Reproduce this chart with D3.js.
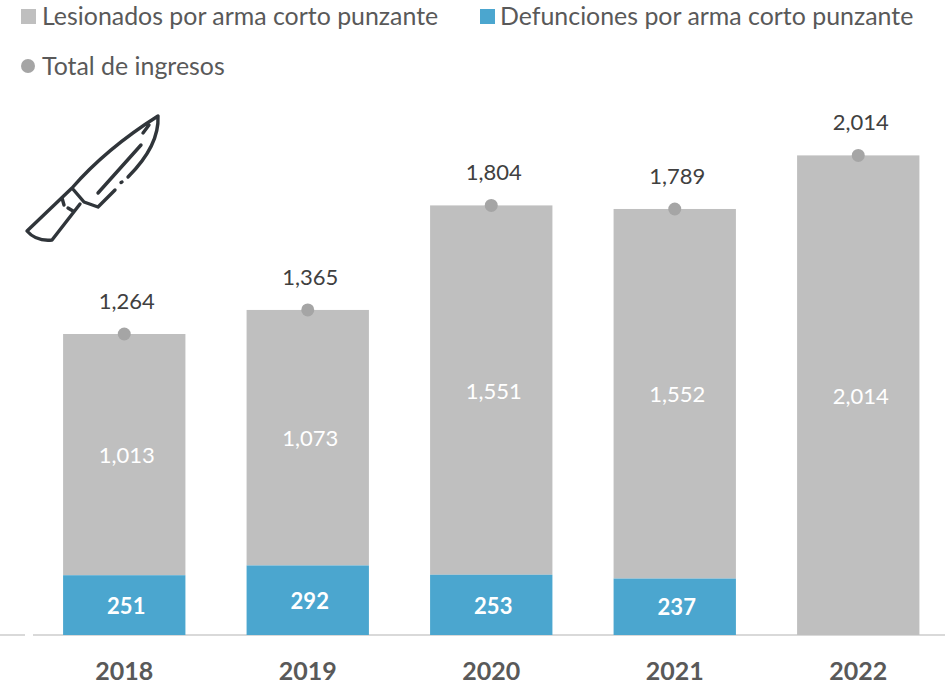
<!DOCTYPE html>
<html><head><meta charset="utf-8">
<script src="https://cdn.jsdelivr.net/npm/d3@7/dist/d3.min.js"></script>
<style>html,body{margin:0;padding:0;background:#fff}svg{display:block}text{font-family:Lato,"Open Sans",sans-serif}</style>
</head><body><div id="chart"></div>
<script>
const years = ["2018","2019","2020","2021","2022"];
const lesionados = [1013,1073,1551,1552,2014];
const defunciones = [251,292,253,237,0];
const totales = [1264,1365,1804,1789,2014];
const legendLabels = ["Lesionados por arma corto punzante","Defunciones por arma corto punzante","Total de ingresos"];
const GREY="#bfbfbf", BLUE="#4ba6cf", DOT="#a5a5a5", TXT="#595959";

const W=945,H=685;
const svg=d3.select("#chart").append("svg").attr("width",W).attr("height",H);
const x=d3.scaleBand().domain(years).range([32.5,950]).paddingInner(1/3).paddingOuter(1/6);
const y=d3.scaleLinear().domain([0,2014]).range([635,155.4]);
const fmt=d3.format(",");

// axis
const axis=svg.append("g").attr("transform","translate(0,635)").call(d3.axisBottom(x).tickSize(0).tickPadding(27));
axis.select(".domain").attr("stroke","#d9d9d9").attr("stroke-width",2).attr("d","M33,0H945M0,0H25");
axis.selectAll("text").attr("font-size",25).attr("font-weight",700).attr("fill",TXT).style("font-family","Lato,sans-serif");

// bars
const rows=years.map((yr,i)=>({yr,les:lesionados[i],def:defunciones[i],tot:totales[i]}));
svg.append("g").selectAll("rect").data(rows).join("rect")
 .attr("x",d=>x(d.yr)).attr("width",x.bandwidth())
 .attr("y",d=>y(d.def+d.les)).attr("height",d=>y(d.def)-y(d.def+d.les)).attr("fill",GREY);
svg.append("g").selectAll("rect").data(rows.filter(d=>d.def>0)).join("rect")
 .attr("x",d=>x(d.yr)).attr("width",x.bandwidth())
 .attr("y",d=>y(d.def)).attr("height",d=>y(0)-y(d.def)).attr("fill",BLUE);

const cx=d=>x(d.yr)+x.bandwidth()/2;
// inner labels
svg.append("g").selectAll("text").data(rows).join("text")
 .attr("x",d=>cx(d)+2.5).attr("y",d=>(y(d.def)+y(d.def+d.les))/2+1).attr("dy","0.35em")
 .attr("text-anchor","middle").attr("font-size",22).attr("fill","#fff").text(d=>fmt(d.les));
svg.append("g").selectAll("text").data(rows.filter(d=>d.def>0)).join("text")
 .attr("x",d=>cx(d)+2).attr("y",d=>(y(d.def)+y(0))/2+1).attr("dy","0.35em")
 .attr("text-anchor","middle").attr("font-size",22).attr("font-weight",700).attr("fill","#fff").text(d=>fmt(d.def));
// total points + labels
svg.append("g").selectAll("circle").data(rows).join("circle")
 .attr("cx",cx).attr("cy",d=>y(d.tot)).attr("r",6.5).attr("fill",DOT);
svg.append("g").selectAll("text").data(rows).join("text")
 .attr("x",d=>cx(d)+2.5).attr("y",d=>y(d.tot)-33).attr("dy","0.35em")
 .attr("text-anchor","middle").attr("font-size",22).attr("fill","#404040").text(d=>fmt(d.tot));

// legend
const lg=svg.append("g");
lg.append("rect").attr("x",21).attr("y",9).attr("width",15).attr("height",15).attr("fill",GREY);
lg.append("rect").attr("x",480).attr("y",9).attr("width",15).attr("height",15).attr("fill",BLUE);
lg.append("circle").attr("cx",28).attr("cy",66).attr("r",7).attr("fill",DOT);
[[42,16,0],[500,16,1],[42,66,2]].forEach(([lx,ly,i])=>{
 lg.append("text").attr("x",lx).attr("y",ly).attr("dy","0.35em").attr("font-size",24.9).attr("fill",TXT).text(legendLabels[i]);
});

// knife icon
svg.append("path").attr("fill","none").attr("stroke","#30353a").attr("stroke-width",3.4)
 .attr("stroke-linecap","round").attr("stroke-linejoin","round")
 .attr("d","M72,188C92,165 120,140 158,116C159,135 150,155 128,177 M122,182L121,182.5 M115,190L98,207L84,202L72,188 M72,188L27,231C33,238 42,241 52,240L80,204 M143,133L149,125 M98,193L141,145 M62,198L64,205 M68,208L73,211");
</script></body></html>
